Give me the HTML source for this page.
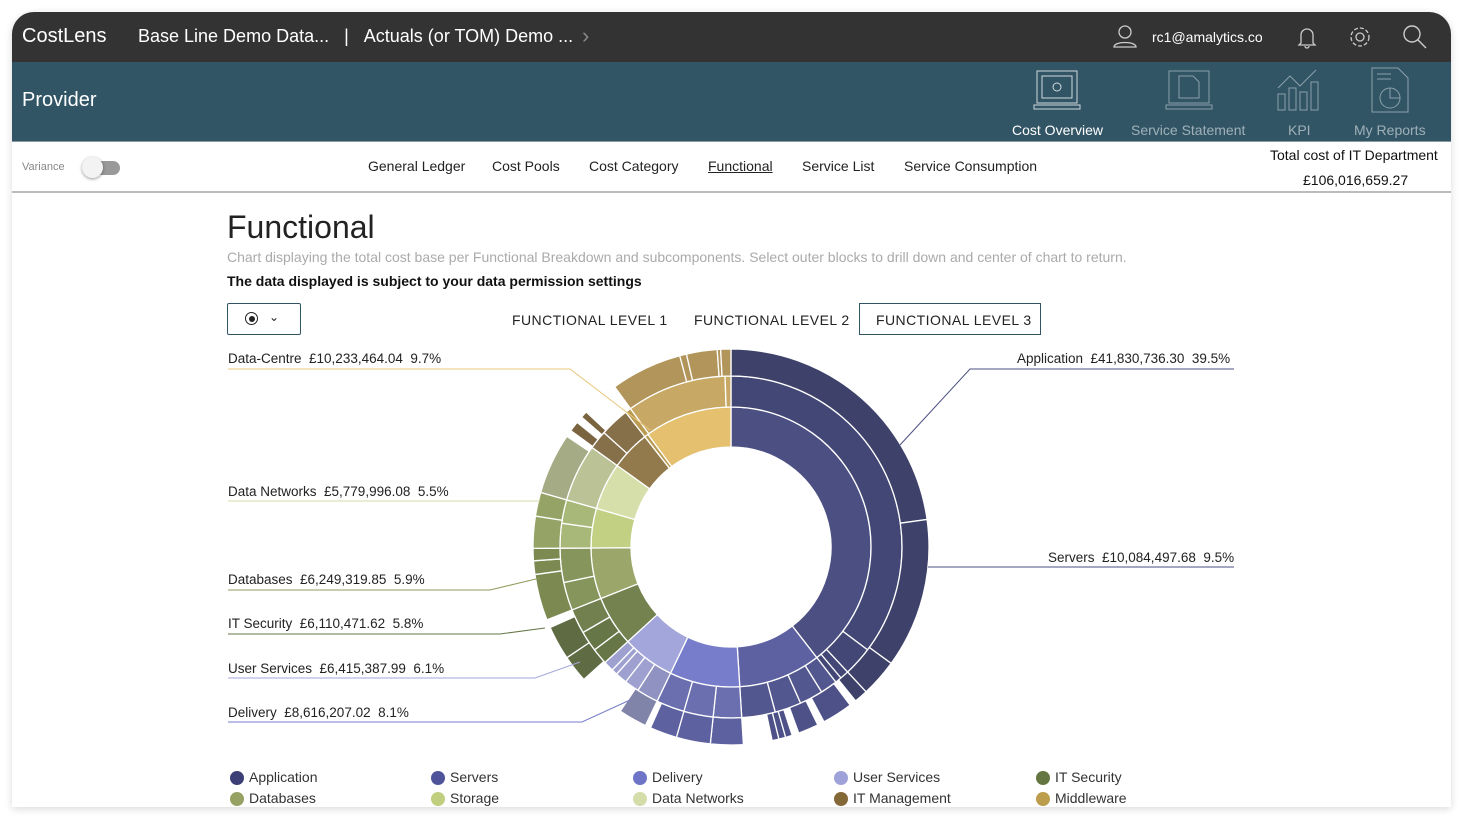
<!DOCTYPE html>
<html><head><meta charset="utf-8">
<style>
body{margin:0;width:1463px;height:819px;background:#fff;font-family:"Liberation Sans",sans-serif;position:relative;overflow:hidden}
.frame{position:absolute;left:12px;top:12px;width:1439px;height:795px;border-radius:22px 22px 0 0;overflow:hidden;box-shadow:0 2px 8px rgba(0,0,0,.15);background:#fff}
.t{position:absolute;white-space:nowrap}
.top{position:absolute;left:0;top:0;width:1439px;height:50px;background:#333}
.teal{position:absolute;left:0;top:50px;width:1439px;height:79px;background:#325566;border-bottom:1px solid #8a9aa3}
.nav{position:absolute;left:0;top:130px;width:1439px;height:49px;border-bottom:2px solid #bbb}
.lab{font-size:13.5px;color:#222}
.leg{position:absolute;font-size:14px;color:#333}
.leg i{position:absolute;left:-19px;top:2px;width:14px;height:14px;border-radius:50%}
.fl{font-size:14px;color:#222;letter-spacing:.45px}
</style></head><body>
<div class="frame">
<div class="top"></div>
<div class="t" style="left:10px;top:13px;font-size:20px;color:#fff">CostLens</div>
<div class="t" style="left:126px;top:14px;font-size:18px;color:#fff">Base Line Demo Data... &nbsp;&nbsp;| &nbsp;&nbsp;Actuals (or TOM) Demo ...</div>
<div class="t" style="left:570px;top:11px;font-size:22px;color:#888">&#x203A;</div>
<svg class="t" style="left:1100px;top:12px" width="26" height="26" fill="none" stroke="#ccc" stroke-width="1.3"><circle cx="13" cy="8" r="6"/><path d="M2 23c0-6 22-6 22 0z"/></svg>
<div class="t" style="left:1140px;top:17px;font-size:14px;color:#fff">rc1@amalytics.co</div>
<svg class="t" style="left:1284px;top:13px" width="22" height="24" fill="none" stroke="#ccc" stroke-width="1.3"><path d="M5 18V10a6 6 0 0112 0v8l2 2H3z"/><path d="M9 21a2 2 0 004 0"/></svg>
<svg class="t" style="left:1336px;top:13px" width="24" height="24" fill="none" stroke="#ccc" stroke-width="1.3"><circle cx="12" cy="12" r="4"/><circle cx="12" cy="12" r="9" stroke-dasharray="4 2"/></svg>
<svg class="t" style="left:1390px;top:12px" width="26" height="26" fill="none" stroke="#ccc" stroke-width="1.4"><circle cx="10" cy="10" r="8"/><path d="M16 16l8 8"/></svg>
<div class="teal"></div>
<div class="t" style="left:10px;top:77px;font-size:20px;color:#fff">Provider</div>
<svg class="t" style="left:1020px;top:56px" width="50" height="44" fill="none" stroke="#cfd8dc" stroke-width="1"><rect x="5" y="3" width="40" height="32"/><rect x="10" y="8" width="30" height="22"/><path d="M2 37h46v4H2z"/><circle cx="25" cy="19" r="4"/></svg>
<svg class="t" style="left:1152px;top:56px" width="50" height="44" fill="none" stroke="#8aa0aa" stroke-width="1"><rect x="5" y="3" width="40" height="32"/><path d="M15 8h14l6 6v16H15z"/><path d="M2 37h46v4H2z"/></svg>
<svg class="t" style="left:1262px;top:56px" width="50" height="44" fill="none" stroke="#8aa0aa" stroke-width="1"><rect x="4" y="26" width="7" height="16"/><rect x="15" y="20" width="7" height="22"/><rect x="26" y="24" width="7" height="18"/><rect x="37" y="14" width="7" height="28"/><path d="M4 20l12-12 10 10 16-16"/></svg>
<svg class="t" style="left:1356px;top:54px" width="44" height="48" fill="none" stroke="#8aa0aa" stroke-width="1"><path d="M4 2h26l10 10v34H4z"/><circle cx="22" cy="32" r="10"/><path d="M22 22v10h10M9 8h14M9 13h14"/></svg>
<div class="t" style="left:1000px;top:110px;font-size:14px;color:#fff">Cost Overview</div>
<div class="t" style="left:1119px;top:110px;font-size:14px;color:#9fb0b8">Service Statement</div>
<div class="t" style="left:1276px;top:110px;font-size:14px;color:#9fb0b8">KPI</div>
<div class="t" style="left:1342px;top:110px;font-size:14px;color:#9fb0b8">My Reports</div>
<div class="nav"></div>
<div class="t" style="left:10px;top:149px;font-size:11px;color:#888">Variance</div>
<div class="t" style="left:74px;top:149px;width:34px;height:14px;border-radius:7px;background:#999"></div>
<div class="t" style="left:70px;top:145px;width:21px;height:21px;border-radius:50%;background:#f3f3f3;box-shadow:0 1px 3px rgba(0,0,0,.4)"></div>
<div class="t" style="left:356px;top:146px;font-size:14px;color:#222">General Ledger</div>
<div class="t" style="left:480px;top:146px;font-size:14px;color:#222">Cost Pools</div>
<div class="t" style="left:577px;top:146px;font-size:14px;color:#222">Cost Category</div>
<div class="t" style="left:696px;top:146px;font-size:14px;color:#222;text-decoration:underline">Functional</div>
<div class="t" style="left:790px;top:146px;font-size:14px;color:#222">Service List</div>
<div class="t" style="left:892px;top:146px;font-size:14px;color:#222">Service Consumption</div>
<div class="t" style="left:1258px;top:135px;font-size:14px;color:#111">Total cost of IT Department</div>
<div class="t" style="left:1291px;top:160px;font-size:14px;color:#111">£106,016,659.27</div>
<div class="t" style="left:215px;top:197px;font-size:32px;color:#222">Functional</div>
<div class="t" style="left:215px;top:237px;font-size:14px;color:#aaa">Chart displaying the total cost base per Functional Breakdown and subcomponents. Select outer blocks to drill down and center of chart to return.</div>
<div class="t" style="left:215px;top:261px;font-size:14px;color:#111;font-weight:bold">The data displayed is subject to your data permission settings</div>
<div class="t" style="left:215px;top:291px;width:72px;height:30px;border:1px solid #325566;border-radius:2px"></div>
<div class="t" style="left:233px;top:300px;width:11px;height:11px;border:1.5px solid #222;border-radius:50%"></div>
<div class="t" style="left:237px;top:304px;width:6px;height:6px;background:#222;border-radius:50%"></div>
<div class="t" style="left:257px;top:298px;font-size:12px;color:#222">&#8964;</div>
<div class="t fl" style="left:500px;top:300px">FUNCTIONAL LEVEL 1</div>
<div class="t fl" style="left:682px;top:300px">FUNCTIONAL LEVEL 2</div>
<div class="t" style="left:847px;top:291px;width:180px;height:30px;border:1px solid #325566"></div>
<div class="t fl" style="left:864px;top:300px">FUNCTIONAL LEVEL 3</div>
</div>
<svg id="sb" style="position:absolute;left:0;top:0" width="1463" height="819"></svg>
<div class="t lab" style="left:228px;top:351px">Data-Centre &nbsp;£10,233,464.04 &nbsp;9.7%</div>
<div class="t lab" style="left:228px;top:484px">Data Networks &nbsp;£5,779,996.08 &nbsp;5.5%</div>
<div class="t lab" style="left:228px;top:572px">Databases &nbsp;£6,249,319.85 &nbsp;5.9%</div>
<div class="t lab" style="left:228px;top:616px">IT Security &nbsp;£6,110,471.62 &nbsp;5.8%</div>
<div class="t lab" style="left:228px;top:661px">User Services &nbsp;£6,415,387.99 &nbsp;6.1%</div>
<div class="t lab" style="left:228px;top:705px">Delivery &nbsp;£8,616,207.02 &nbsp;8.1%</div>
<div class="t lab" style="left:1017px;top:351px">Application &nbsp;£41,830,736.30 &nbsp;39.5%</div>
<div class="t lab" style="left:1048px;top:550px">Servers &nbsp;£10,084,497.68 &nbsp;9.5%</div>
<div class="leg" style="left:249px;top:769px"><i style="background:#3b3f75"></i>Application</div>
<div class="leg" style="left:450px;top:769px"><i style="background:#4f539a"></i>Servers</div>
<div class="leg" style="left:652px;top:769px"><i style="background:#6e74c8"></i>Delivery</div>
<div class="leg" style="left:853px;top:769px"><i style="background:#9ea2d8"></i>User Services</div>
<div class="leg" style="left:1055px;top:769px"><i style="background:#657643"></i>IT Security</div>
<div class="leg" style="left:249px;top:790px"><i style="background:#95a263"></i>Databases</div>
<div class="leg" style="left:450px;top:790px"><i style="background:#bfcf7e"></i>Storage</div>
<div class="leg" style="left:652px;top:790px"><i style="background:#d4dcaa"></i>Data Networks</div>
<div class="leg" style="left:853px;top:790px"><i style="background:#856838"></i>IT Management</div>
<div class="leg" style="left:1055px;top:790px"><i style="background:#bb9d4c"></i>Middleware</div>
<script>
var cx=731,cy=547,R=[[100,140],[140,171],[171,198]];
var segs=[
[0,0,142.2,'#4b4f82'],[0,142.2,176.4,'#5d61a2'],[0,176.4,205.6,'#777dca'],[0,205.6,227.5,'#a3a6da'],[0,227.5,248.4,'#73824f'],[0,248.4,269.6,'#9aa66a'],[0,269.6,286,'#c2d084'],[0,286,305.6,'#d6dfa9'],[0,305.6,322,'#927a4c'],[0,322,323.6,'#b89a50'],[0,323.6,360,'#e4c06f'],
[1,0,127,'#434775'],[1,127,137,'#434775'],[1,137,140,'#434775'],[1,140,142.2,'#434775'],
[1,142.2,148,'#53578f'],[1,148,156,'#53578f'],[1,156,165,'#53578f'],[1,165,176.4,'#53578f'],
[1,176.4,186,'#6b6fb0'],[1,186,196,'#6b6fb0'],[1,196,205.6,'#6b6fb0'],
[1,205.6,213,'#9093c2'],[1,213,218,'#9ea1d0'],[1,218,222,'#9ea1d0'],[1,222,224,'#9ea1d0'],[1,224,227.5,'#9ea1d0'],
[1,227.5,233,'#667646'],[1,233,240,'#667646'],[1,240,248.4,'#728050'],
[1,248.4,258,'#86955c'],[1,258,269.6,'#86955c'],
[1,269.6,278,'#a8b878'],[1,278,286,'#a8b878'],
[1,286,305.6,'#bac296'],
[1,305.6,312,'#86704a'],[1,312,322,'#86704a'],[1,322,324,'#b89a50'],
[1,324,358,'#c8a865'],[1,358,360,'#c8a865'],
[2,0,82,'#3e4169'],[2,82,126,'#3e4169'],[2,126,137,'#3e4169'],[2,137,141,'#3e4169'],
[2,143,152,'#4d5188'],[2,154,160,'#4d5188'],[2,162,164,'#4d5188'],[2,164,166,'#4d5188'],[2,166,168,'#4d5188'],
[2,176.4,186,'#5d61a0'],[2,186,196,'#5d61a0'],[2,196,204,'#5d61a0'],
[2,205.6,214,'#8084a9'],
[2,228,236,'#5f6b43'],[2,236,246,'#5f6b43'],
[2,248.4,262,'#7c8a52'],[2,262,266,'#7c8a52'],[2,266,269.6,'#7c8a52'],
[2,269.6,279,'#95a466'],[2,279,286,'#95a466'],
[2,286,304,'#a4ab85'],
[2,306,309,'#7a6440'],[2,311,313,'#7a6440'],
[2,324,345,'#b2955b'],[2,345,347,'#b2955b'],[2,347,356,'#b2955b'],[2,356,357,'#b2955b'],[2,357,360,'#b2955b']];
function P(r,a){a=a*Math.PI/180;return (cx+r*Math.sin(a)).toFixed(2)+','+(cy-r*Math.cos(a)).toFixed(2)}
var h='';
segs.forEach(function(s){var r0=R[s[0]][0],r1=R[s[0]][1],a0=s[1],a1=s[2],l=(a1-a0)>180?1:0;
h+='<path d="M'+P(r0,a0)+'L'+P(r1,a0)+'A'+r1+','+r1+' 0 '+l+' 1 '+P(r1,a1)+'L'+P(r0,a1)+'A'+r0+','+r0+' 0 '+l+' 0 '+P(r0,a0)+'Z" fill="'+s[3]+'" stroke="#fff" stroke-width="1.3"/>';});
var L=[['M228,369H570L650,430','#e8c77a'],['M228,501H540','#d6dfa9'],['M228,590H490L540,578','#8f9c5e'],['M228,634H500L545,628','#667646'],['M228,678H535L580,662','#a3a6da'],['M228,722H582L630,700','#777dca'],['M1234,369H970L900,445','#4b4f82'],['M1234,567H928','#4b4f82']];
L.forEach(function(l){h+='<path d="'+l[0]+'" fill="none" stroke="'+l[1]+'" stroke-width="1"/>'});
document.getElementById('sb').innerHTML=h;
</script>
</body></html>
